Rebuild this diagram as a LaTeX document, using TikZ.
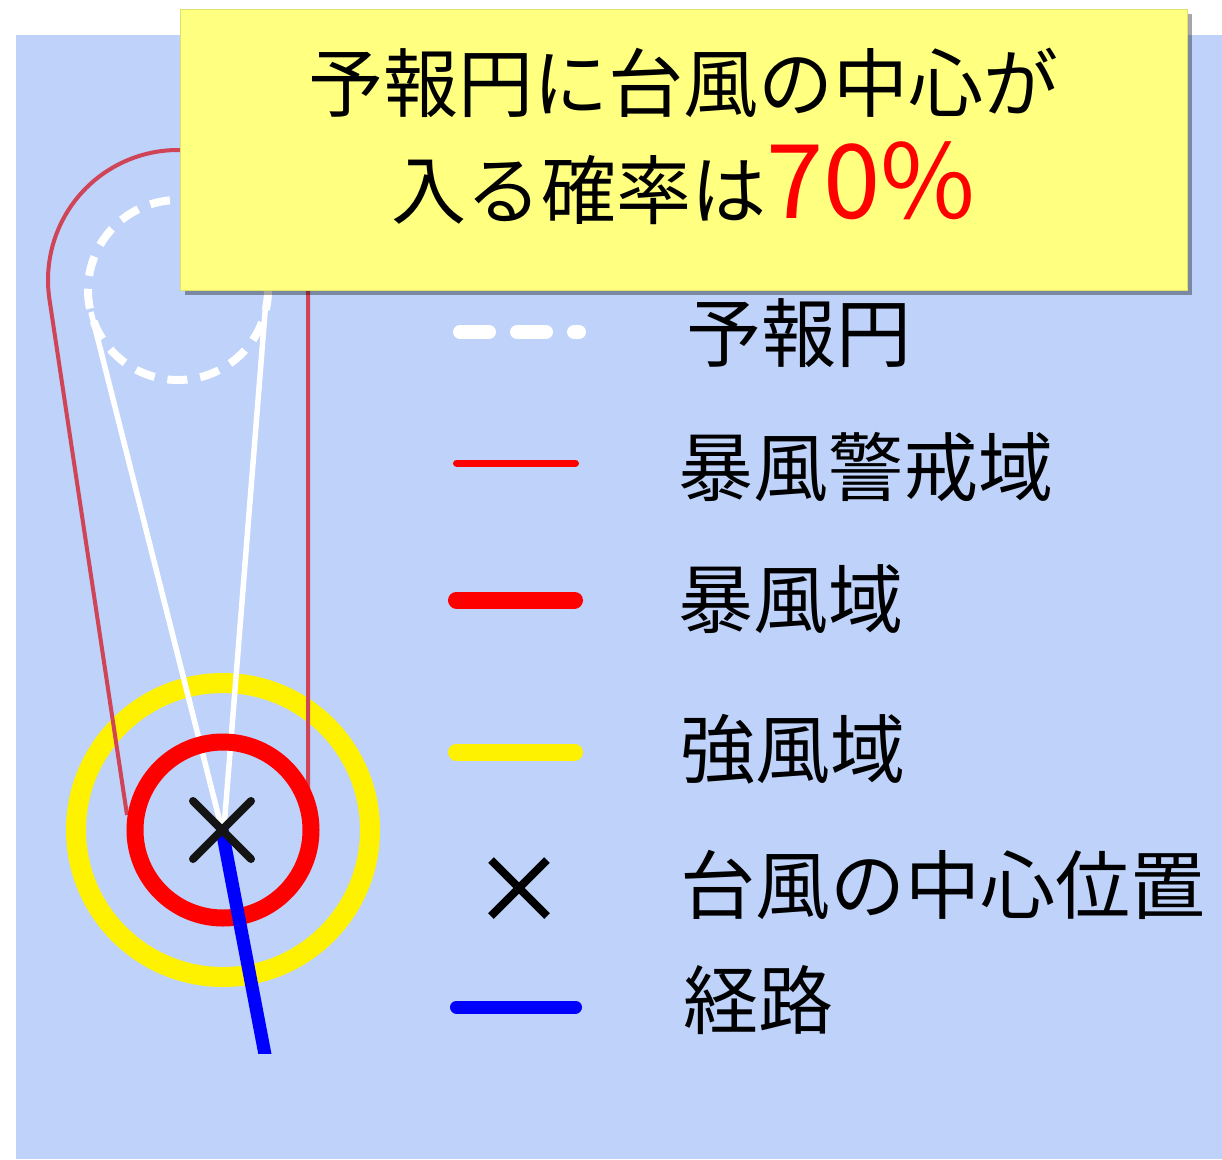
\documentclass[tikz,border=0pt]{standalone}
\usepackage{fontspec}
\setmainfont{Noto Sans CJK JP}
\usetikzlibrary{shadows}
\definecolor{bgblue}{RGB}{190,210,250}
\definecolor{notey}{RGB}{255,255,128}
\definecolor{mapred}{RGB}{208,68,88}
\begin{document}
\begin{tikzpicture}[x=1pt,y=-1pt,
  legtext/.style={anchor=base west, inner sep=0pt, outer sep=0pt, font=\fontsize{75}{90}\selectfont},
  boxtext/.style={anchor=base, inner sep=0pt, outer sep=0pt, font=\fontsize{75}{90}\selectfont},
  swatch/.style={line cap=round}
]
\useasboundingbox (0,0) rectangle (1222,1159);
\fill[bgblue] (16,35) rectangle (1222,1159);

% ---- map ----
\begin{scope}
\clip (16,35) rectangle (400,1053);
\coordinate (c) at (223,830);
\coordinate (fc) at (178,290);
\draw[yellow, line width=20pt] (c) circle[radius=147];
\draw[mapred, line width=4pt, line join=round] (308,800) -- (308,280)
   arc[start angle=0, end angle=-188.5, radius=130] -- (127,815);
\draw[white, line width=8pt, dash pattern=on 20pt off 13pt] (fc) circle[radius=90];
\draw[white, line width=5.5pt] (91,312) -- (221,826);
\draw[white, line width=5.5pt] (266,300) -- (224,828);
\draw[red, line width=17pt] (c) circle[radius=88];
\draw[blue, line width=13pt] (222,830) -- (267,1065);
\draw[black!92, line width=8pt, line cap=round] (193,801) -- (251,859) (193,859) -- (251,801);
\end{scope}

% ---- note box ----
\node[fill=notey, draw={rgb,255:red,225;green,225;blue,110}, line width=1pt,
  minimum width=1007pt, minimum height=281pt, inner sep=0pt, outer sep=0pt,
  drop shadow={shadow xshift=5pt, shadow yshift=-5pt, opacity=0.35, fill=black}]
  (note) at (683.5,149.5) {};
\node[boxtext] (t1) at (683.5,111) {予報円に台風の中心が};
\node[boxtext] (t2) at (683.5,218) {入る確率は{\color{red}\fontsize{103}{110}\selectfont 70\%}};

% ---- legend ----
\draw[white, line width=14pt, swatch, dash pattern=on 29pt off 28pt] (460,332) -- (579,332);
\node[legtext] (l1) at (686,361) {予報円};
\draw[red, line width=7pt, swatch] (456.5,463) -- (575.5,463);
\node[legtext] (l2) at (678,495) {暴風警戒域};
\draw[red, line width=17pt, swatch] (456.5,600) -- (574.5,600);
\node[legtext] (l3) at (678,627) {暴風域};
\draw[yellow, line width=17pt, swatch] (456.5,752) -- (574.5,752);
\node[legtext] (l4) at (680,777) {強風域};
\draw[black, line width=8pt] (491,860) -- (547,916) (491,916) -- (547,860);
\node[legtext] (l5) at (680,913) {台風の中心位置};
\draw[blue, line width=13pt, swatch] (456.5,1007) -- (575.5,1007);
\node[legtext] (l6) at (683,1028) {経路};
\end{tikzpicture}
\end{document}
